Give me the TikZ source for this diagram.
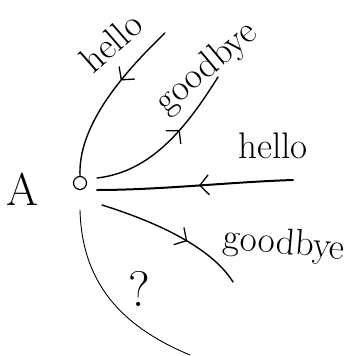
\documentclass[tikz,border=0pt]{standalone}
\usetikzlibrary{arrows.meta,decorations.markings}

\begin{document}
\begin{tikzpicture}[x=1pt,y=-1pt,line cap=round,
    wire/.style={line width=1.4pt},
    midarrow/.style={postaction={decorate},decoration={markings,
        mark=at position #1 with {\arrow{Straight Barb[length=9pt,width=20pt,line width=1.3pt]}}}},
    word/.style={font=\fontsize{37}{37}\selectfont,inner sep=0pt}]
        \useasboundingbox (0,0) rectangle (349,356);
        \node[circle, draw, line width=1.2pt, minimum size=13pt, inner sep=0pt] (v) at (80,183) {};
        \node[font=\fontsize{46}{46}\selectfont, inner sep=0pt] (nameA) at (22,189) {A};
        % incoming and outgoing edges
        \coordinate (inTop) at (165,33);
        \coordinate (outTop) at (218,77);
        \coordinate (inRight) at (293,180);
        \coordinate (outRight) at (233,282);
        \coordinate (unknown) at (190,355);
        \coordinate (outStart) at (97,178);
        \coordinate (inEnd) at (97,190);
        \coordinate (lowStart) at (102,205);
        \coordinate (qStart) at (80,210);
        \draw[wire, midarrow=0.38] (inTop) .. controls (118,78) and (78,128) .. (v.north);
        \draw[wire, midarrow=0.6] (outStart) .. controls (150,172) and (185,130) .. (outTop);
        \draw[line width=2pt, midarrow=0.48] (inRight) .. controls (230,182) and (160,190) .. (inEnd);
        \draw[wire, midarrow=0.6] (lowStart) .. controls (150,220) and (210,245) .. (outRight);
        \draw[line width=0.9pt] (qStart) .. controls (82,290) and (130,330) .. (unknown);
        % labels
        \node[word, rotate=41] (lblHello1) at (111,42) {hello};
        \node[word, rotate=40] (lblBye1) at (207,68) {goodbye};
        \node[word] (lblHello2) at (273,146) {hello};
        \node[word, rotate=-5] (lblBye2) at (284,245) {goodbye};
        \node[word, font=\fontsize{50}{50}\selectfont] (lblQ) at (139,289) {?};
    \end{tikzpicture}
\end{document}
